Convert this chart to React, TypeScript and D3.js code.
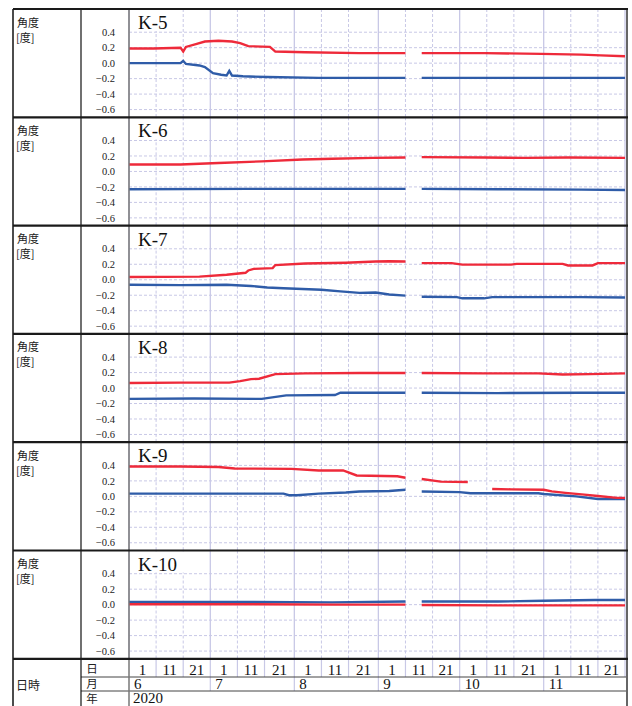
import * as d3 from "d3";

type Pt = [string, number | null];

const panelNames = ["K-5", "K-6", "K-7", "K-8", "K-9", "K-10"];

// values, [month-day, angle]; null = no data
const k5Red: Pt[] = [
  ["06-01", 0.19], ["06-10", 0.19], ["06-20", 0.2], ["06-21", 0.15], ["06-22", 0.21],
  ["06-26", 0.25], ["06-29", 0.28], ["07-04", 0.29], ["07-09", 0.28], ["07-12", 0.26],
  ["07-15", 0.22], ["07-23", 0.21], ["07-25", 0.15], ["08-05", 0.14], ["08-25", 0.13],
  ["09-11", 0.13], ["09-14", null], ["09-17", 0.13], ["10-10", 0.13], ["10-31", 0.12],
  ["11-15", 0.11], ["11-22", 0.1], ["12-01", 0.09],
];
const k5Blue: Pt[] = [
  ["06-01", 0.0], ["06-20", 0.0], ["06-21", 0.03], ["06-22", -0.01], ["06-27", -0.03],
  ["06-29", -0.05], ["07-02", -0.13], ["07-05", -0.15], ["07-07", -0.16], ["07-08", -0.1],
  ["07-09", -0.16], ["07-13", -0.17], ["07-22", -0.18], ["08-10", -0.19], ["09-11", -0.19],
  ["09-14", null], ["09-17", -0.19], ["10-15", -0.19], ["11-15", -0.19], ["12-01", -0.19],
];
const k6Red: Pt[] = [
  ["06-01", 0.09], ["06-20", 0.09], ["07-04", 0.11], ["07-20", 0.13], ["08-04", 0.155],
  ["08-15", 0.165], ["08-30", 0.175], ["09-11", 0.18], ["09-14", null], ["09-17", 0.185],
  ["10-10", 0.18], ["10-25", 0.175], ["11-10", 0.18], ["12-01", 0.175],
];
const k6Blue: Pt[] = [
  ["06-01", -0.23], ["07-15", -0.225], ["08-15", -0.225], ["09-11", -0.225], ["09-14", null],
  ["09-17", -0.225], ["10-15", -0.23], ["11-15", -0.235], ["12-01", -0.24],
];
const k7Red: Pt[] = [
  ["06-01", 0.035], ["06-27", 0.04], ["07-07", 0.065], ["07-14", 0.09], ["07-15", 0.12],
  ["07-17", 0.14], ["07-24", 0.15], ["07-25", 0.19], ["08-05", 0.21], ["08-20", 0.22],
  ["08-31", 0.235], ["09-05", 0.24], ["09-11", 0.235], ["09-14", null], ["09-17", 0.215],
  ["09-28", 0.215], ["10-02", 0.195], ["10-20", 0.195], ["10-22", 0.205], ["11-08", 0.205],
  ["11-10", 0.185], ["11-19", 0.185], ["11-21", 0.215], ["12-01", 0.215],
];
const k7Blue: Pt[] = [
  ["06-01", -0.065], ["06-20", -0.07], ["07-07", -0.065], ["07-16", -0.08], ["07-22", -0.1],
  ["07-28", -0.11], ["08-11", -0.13], ["08-18", -0.15], ["08-25", -0.17], ["08-31", -0.165],
  ["09-05", -0.19], ["09-11", -0.205], ["09-14", null], ["09-17", -0.22], ["09-30", -0.225],
  ["10-02", -0.24], ["10-10", -0.24], ["10-13", -0.225], ["11-15", -0.225], ["12-01", -0.23],
];
const k8Red: Pt[] = [
  ["06-01", 0.065], ["06-20", 0.07], ["07-08", 0.07], ["07-12", 0.09], ["07-16", 0.115],
  ["07-19", 0.12], ["07-25", 0.18], ["08-05", 0.19], ["08-25", 0.195], ["09-11", 0.195],
  ["09-14", null], ["09-17", 0.195], ["10-10", 0.19], ["10-30", 0.19], ["11-08", 0.175],
  ["11-18", 0.18], ["12-01", 0.19],
];
const k8Blue: Pt[] = [
  ["06-01", -0.14], ["06-25", -0.135], ["07-20", -0.14], ["07-29", -0.095], ["08-16", -0.09],
  ["08-18", -0.06], ["09-11", -0.06], ["09-14", null], ["09-17", -0.06], ["10-15", -0.065],
  ["11-15", -0.06], ["12-01", -0.06],
];
const k9Red: Pt[] = [
  ["06-01", 0.385], ["06-20", 0.385], ["07-04", 0.38], ["07-10", 0.36], ["07-31", 0.355],
  ["08-10", 0.335], ["08-19", 0.335], ["08-24", 0.27], ["09-08", 0.26], ["09-11", 0.24],
  ["09-14", null], ["09-17", 0.225], ["09-22", 0.2], ["09-24", 0.19], ["10-04", 0.185],
  ["10-08", null], ["10-13", 0.095], ["10-20", 0.09], ["11-01", 0.085], ["11-04", 0.065],
  ["11-09", 0.045], ["11-16", 0.022], ["11-21", 0.005], ["11-28", -0.02], ["12-01", -0.02],
];
const k9Blue: Pt[] = [
  ["06-01", 0.035], ["07-28", 0.035], ["07-30", 0.015], ["08-02", 0.015], ["08-10", 0.035],
  ["08-20", 0.05], ["08-25", 0.062], ["09-05", 0.07], ["09-11", 0.085], ["09-14", null],
  ["09-17", 0.062], ["10-01", 0.055], ["10-05", 0.04], ["10-30", 0.04], ["11-01", 0.03],
  ["11-13", 0.0], ["11-21", -0.035], ["12-01", -0.035],
];
const k10Red: Pt[] = [
  ["06-01", 0.005], ["07-15", 0.005], ["08-15", 0.0], ["09-11", 0.0], ["09-14", null],
  ["09-17", -0.005], ["10-15", -0.01], ["11-15", -0.01], ["12-01", -0.01],
];
const k10Blue: Pt[] = [
  ["06-01", 0.035], ["07-15", 0.035], ["08-15", 0.03], ["09-11", 0.04], ["09-14", null],
  ["09-17", 0.04], ["10-15", 0.04], ["11-01", 0.05], ["11-20", 0.06], ["12-01", 0.06],
];

const redSeries = [k5Red, k6Red, k7Red, k8Red, k9Red, k10Red];
const blueSeries = [k5Blue, k6Blue, k7Blue, k8Blue, k9Blue, k10Blue];

const yTicks = [0.4, 0.2, 0.0, -0.2, -0.4, -0.6];
const tickMonths = [6, 7, 8, 9, 10, 11];
const tickDays = [1, 11, 21];
const yearLabel = "2020";

const W = 632;
const H = 706;
const top0 = 9;
const ph = 108.3;
const colA = 13;
const colB = 81;
const plotL = 129;
const plotR = 625;
const rightEdge = 627;
const gridColor = "#c8c8e6";
const red = "#ee2a3a";
const blue = "#2f5ca8";
const cjk = "'Noto Sans CJK JP', sans-serif";
const serif = "'Liberation Serif', serif";

const parse = d3.timeParse("%Y-%m-%d");
const toDate = (s: string) => parse(`2020-${s}`) as Date;

const x = d3
  .scaleTime()
  .domain([new Date(2020, 5, 1), new Date(2020, 11, 1)])
  .range([plotL, plotR]);

const ticks: Date[] = [];
tickMonths.forEach((m) => tickDays.forEach((d) => ticks.push(new Date(2020, m - 1, d))));
ticks.push(new Date(2020, 11, 1));

const fmt = (v: number) =>
  v === 0 ? "0.0" : (v < 0 ? "\u2212" : "") + Math.abs(v).toFixed(1);

function Panel({ i }: { i: number }) {
  const t = top0 + i * ph;
  const y = d3.scaleLinear().domain([-0.7, 0.7]).range([t + ph, t]);
  const line = d3
    .line<Pt>()
    .defined((d) => d[1] !== null)
    .x((d) => x(toDate(d[0])))
    .y((d) => y(d[1] as number));
  const name = panelNames[i];
  const titleW = name.length * 9.5 + 4;
  return (
    <g>
      {yTicks.map((v) => (
        <line key={v} x1={plotL} x2={plotR} y1={y(v)} y2={y(v)}
          stroke={gridColor} strokeWidth={1} strokeDasharray="3,2" />
      ))}
      {ticks.map((d, k) => (
        <line key={k} x1={x(d)} x2={x(d)} y1={t} y2={t + ph}
          stroke={gridColor} strokeWidth={d.getDate() === 1 ? 1.3 : 1}
          strokeDasharray={d.getDate() === 1 ? undefined : "3,2"} />
      ))}
      <rect x={plotL + 1} y={t + 1} width={titleW + 12} height={21} fill="#fff" />
      <text x={138} y={t + 20} fontFamily={serif} fontSize={19} fill="#111">
        {name}
      </text>
      {yTicks.map((v) => (
        <text key={v} x={115} y={y(v)} dy="0.35em" textAnchor="end"
          fontFamily={serif} fontSize={10.5} fill="#222">
          {fmt(v)}
        </text>
      ))}
      <text x={17} y={t + 17.5} fontFamily={cjk} fontSize={11} fill="#222">角度</text>
      <text x={16} y={t + 32.5} fontFamily={cjk} fontSize={11} fill="#222">[度]</text>
      <path d={line(blueSeries[i]) ?? ""} fill="none" stroke={blue} strokeWidth={2.4} />
      <path d={line(redSeries[i]) ?? ""} fill="none" stroke={red} strokeWidth={2.4} />
    </g>
  );
}

export default function App() {
  const tableTop = top0 + 6 * ph;
  const row1 = 677;
  const row2 = 691;
  const monthStarts = tickMonths.map((m) => new Date(2020, m - 1, 1));
  return (
    <div style={{ position: "absolute", left: 0, top: 0 }}>
      <svg width={W} height={H} style={{ display: "block", background: "#fff" }}>
        <rect width={W} height={H} fill="#fff" />
        {panelNames.map((_, i) => (
          <Panel key={i} i={i} />
        ))}

        {/* bottom date table */}
        {ticks.slice(1).map((d, k) => (
          <line key={k} x1={x(d)} x2={x(d)} y1={tableTop} y2={row1} stroke={gridColor} strokeWidth={1.2} />
        ))}
        {monthStarts.slice(1).map((d, k) => (
          <line key={k} x1={x(d)} x2={x(d)} y1={row1} y2={row2} stroke={gridColor} strokeWidth={1.2} />
        ))}
        {ticks.slice(0, -1).map((d, k) => (
          <text key={k} x={(x(d) + x(ticks[k + 1])) / 2} y={675} textAnchor="middle"
            fontFamily={serif} fontSize={15} fill="#111">
            {String(d.getDate())}
          </text>
        ))}
        {monthStarts.map((d, k) => (
          <text key={k} x={x(d) + 5} y={689} fontFamily={serif} fontSize={15} fill="#111">
            {String(tickMonths[k])}
          </text>
        ))}
        <text x={plotL + 4} y={703} fontFamily={serif} fontSize={15} fill="#111">
          {yearLabel}
        </text>
        {["日", "月", "年"].map((s, k) => (
          <text key={s} x={92} y={[673, 688, 703][k]} textAnchor="middle"
            fontFamily={cjk} fontSize={11.5} fill="#222">
            {s}
          </text>
        ))}
        <text x={16} y={690} fontFamily={cjk} fontSize={12} fill="#222">
          日時
        </text>
        <line x1={colB} x2={rightEdge} y1={row1} y2={row1} stroke="#444" strokeWidth={1} />
        <line x1={colB} x2={rightEdge} y1={row2} y2={row2} stroke="#444" strokeWidth={1} />

        {/* frame */}
        <line x1={plotL} x2={plotL} y1={top0} y2={H} stroke="#777" strokeWidth={1.5} />
        <line x1={colA} x2={colA} y1={top0} y2={H} stroke="#111" strokeWidth={1.5} />
        <line x1={colB} x2={colB} y1={top0} y2={H} stroke="#111" strokeWidth={1.2} />
        <line x1={rightEdge} x2={rightEdge} y1={top0} y2={H} stroke="#666" strokeWidth={2} />
        {d3.range(7).map((k) => (
          <line key={k} x1={colA} x2={rightEdge + 1} y1={top0 + k * ph} y2={top0 + k * ph}
            stroke="#1a1a1a" strokeWidth={2.2} />
        ))}
      </svg>
    </div>
  );
}
